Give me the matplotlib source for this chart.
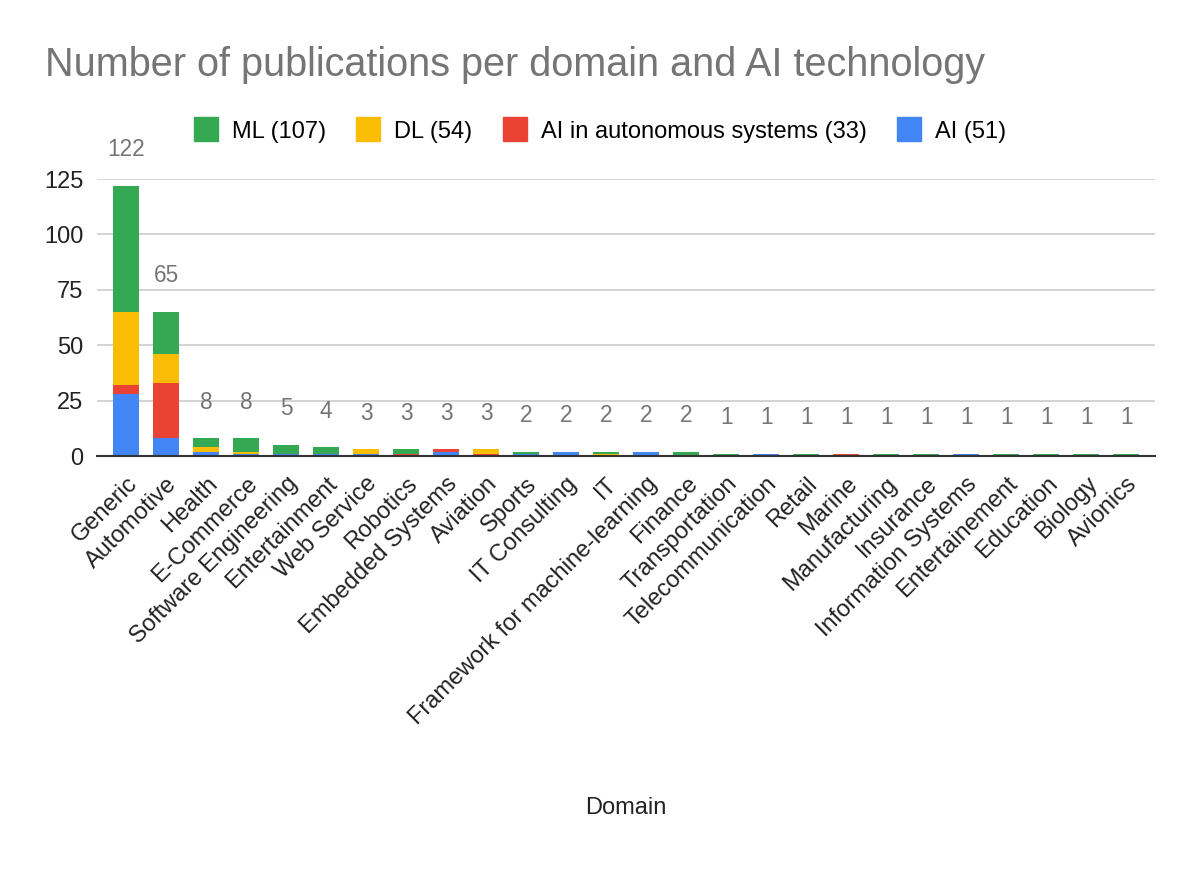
import matplotlib
matplotlib.use("Agg")
import matplotlib.pyplot as plt
from matplotlib.lines import Line2D
import numpy as np

plt.rcParams['font.family'] = ['Liberation Sans', 'DejaVu Sans']

# domains in the order shown
domains = ["Generic", "Automotive", "Health", "E-Commerce", "Software Engineering",
           "Entertainment", "Web Service", "Robotics", "Embedded Systems", "Aviation",
           "Sports", "IT Consulting", "IT", "Framework for machine-learning", "Finance",
           "Transportation", "Telecommunication", "Retail", "Marine", "Manufacturing",
           "Insurance", "Information Systems", "Entertainement", "Education", "Biology",
           "Avionics"]

# stacked from bottom: AI, AI in autonomous systems, DL, ML
ai   = [28, 8, 2, 1, 1, 1, 1, 0, 2, 0, 1, 2, 0, 2, 0, 0, 1, 0, 0, 0, 0, 1, 0, 0, 0, 0]
aias = [4, 25, 0, 0, 0, 0, 0, 1, 1, 1, 0, 0, 0, 0, 0, 0, 0, 0, 1, 0, 0, 0, 0, 0, 0, 0]
dl   = [33, 13, 2, 1, 0, 0, 2, 0, 0, 2, 0, 0, 1, 0, 0, 0, 0, 0, 0, 0, 0, 0, 0, 0, 0, 0]
ml   = [57, 19, 4, 6, 4, 3, 0, 2, 0, 0, 1, 0, 1, 0, 2, 1, 0, 1, 0, 1, 1, 0, 1, 1, 1, 1]

series_names = ["AI (51)", "AI in autonomous systems (33)", "DL (54)", "ML (107)"]
colors = ["#4285F4", "#EA4335", "#FBBC04", "#34A853"]

fig = plt.figure(figsize=(12, 8.84), dpi=100)
ax = fig.add_axes([0.081, 0.484, 0.8815, 0.3135])

x = np.arange(len(domains))
bottom = np.zeros(len(domains))
for vals, c in zip([ai, aias, dl, ml], colors):
    ax.bar(x, vals, width=0.65, bottom=bottom, color=c, zorder=3)
    bottom = bottom + np.array(vals)

totals = bottom
for xi, t in zip(x, totals):
    ax.annotate(str(int(t)), (xi, t), xytext=(0, 26), textcoords="offset points",
                ha="center", va="center", fontsize=16.3, color="#757575",
                annotation_clip=False)

ax.set_xlim(-0.72, 25.72)
ax.set_ylim(0, 125)
ax.set_yticks([0, 25, 50, 75, 100, 125])
ax.yaxis.grid(True, color="#cccccc", linewidth=1.2, zorder=0)
ax.set_axisbelow(True)
for s in ["top", "right", "left"]:
    ax.spines[s].set_visible(False)
ax.spines["bottom"].set_color("#333333")
ax.spines["bottom"].set_linewidth(1.5)
ax.spines["bottom"].set_zorder(4)
ax.tick_params(axis="both", length=0, labelsize=17, colors="#222222")
ax.tick_params(axis="y", pad=10)
ax.tick_params(axis="x", pad=12)
ax.set_xticks(x)
ax.set_xticklabels(domains, rotation=45, ha="right", rotation_mode="anchor")

fig.text(0.5217, 0.086, "Domain", ha="center", va="center", fontsize=17, color="#222222")
fig.text(0.0375, 0.926, "Number of publications per domain and AI technology",
         ha="left", va="center", fontsize=28.5, color="#757575")

handles = []
for i in [3, 2, 1, 0]:
    handles.append(Line2D([], [], marker="s", linestyle="none", markersize=17,
                          color=colors[i], label=series_names[i]))
fig.legend(handles=handles, loc="center", bbox_to_anchor=(0.5, 0.851), ncol=4,
           frameon=False, fontsize=17, handlelength=1.0, handletextpad=0.6,
           columnspacing=1.3)

fig.savefig("out.png", dpi=100, facecolor="white")
